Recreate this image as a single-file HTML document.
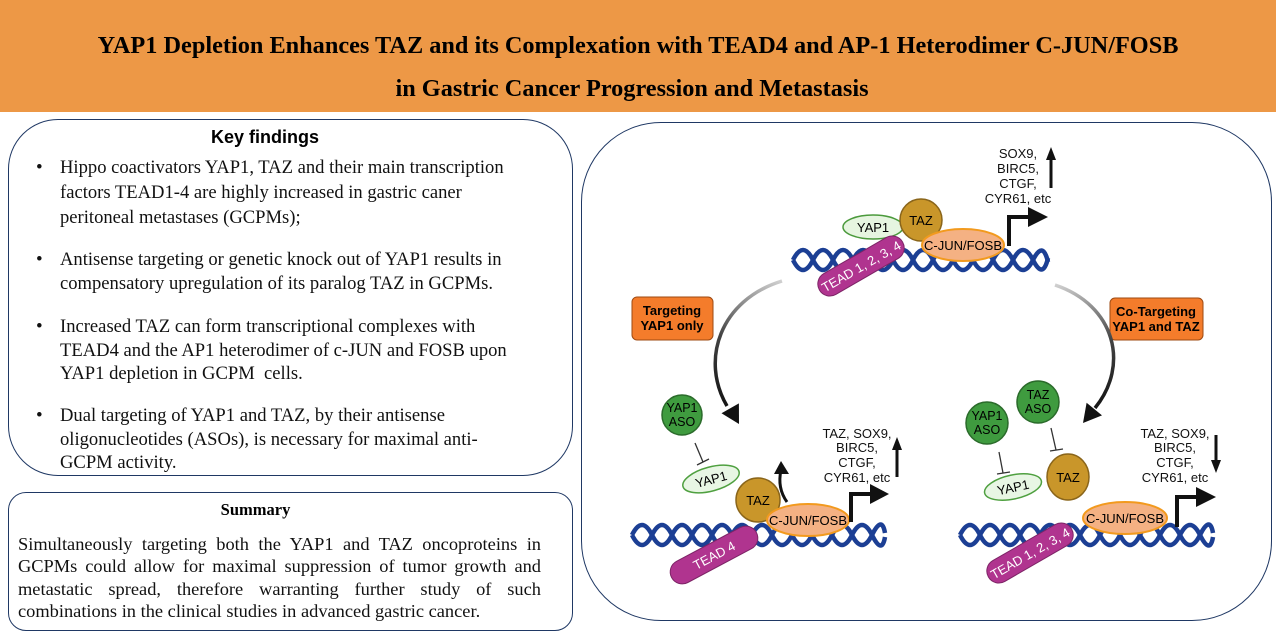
<!DOCTYPE html>
<html><head><meta charset="utf-8">
<style>
html,body{margin:0;padding:0;}
body{width:1276px;height:640px;position:relative;overflow:hidden;background:#fff;font-family:"Liberation Serif",serif;}
.hdr{position:absolute;left:0;top:0;width:1276px;height:112px;background:#ED9846;}
.t{position:absolute;left:0;width:1276px;text-align:center;font-family:"Liberation Serif",serif;font-weight:bold;font-size:24.3px;color:#000;white-space:nowrap;}
.box{position:absolute;border:1.3px solid #1F3864;background:#fff;}
.ln{position:absolute;font-family:"Liberation Serif",serif;font-size:18.6px;color:#111;white-space:nowrap;line-height:20px;}
.bul{position:absolute;left:36px;font-size:19px;line-height:20px;color:#111;}
.sj{position:absolute;left:18px;width:523px;font-family:"Liberation Serif",serif;font-size:18.4px;color:#111;line-height:20px;text-align:justify;text-align-last:justify;white-space:nowrap;}
</style></head>
<body>
<div class="hdr"></div>
<div class="t" style="top:32px;">YAP1 Depletion Enhances TAZ and its Complexation with TEAD4 and AP-1 Heterodimer C-JUN/FOSB</div>
<div class="t" style="top:75px;left:-6px;">in Gastric Cancer Progression and Metastasis</div>

<div class="box" style="left:8px;top:119px;width:563px;height:355px;border-radius:50px;"></div>
<div style="position:absolute;left:8px;top:127px;width:514px;text-align:center;font-family:'Liberation Sans',sans-serif;font-weight:bold;font-size:18px;">Key findings</div>

<div class="bul" style="top:158px;">•</div>
<div class="ln" style="left:60px;top:158px;">Hippo coactivators YAP1, TAZ and their main transcription</div>
<div class="ln" style="left:60px;top:183px;">factors TEAD1-4 are highly increased in gastric caner</div>
<div class="ln" style="left:60px;top:208px;">peritoneal metastases (GCPMs);</div>

<div class="bul" style="top:250px;">•</div>
<div class="ln" style="left:60px;top:250px;">Antisense targeting or genetic knock out of YAP1 results in</div>
<div class="ln" style="left:60px;top:274px;">compensatory upregulation of its paralog TAZ in GCPMs.</div>

<div class="bul" style="top:317px;">•</div>
<div class="ln" style="left:60px;top:317px;">Increased TAZ can form transcriptional complexes with</div>
<div class="ln" style="left:60px;top:341px;">TEAD4 and the AP1 heterodimer of c-JUN and FOSB upon</div>
<div class="ln" style="left:60px;top:364px;">YAP1 depletion in GCPM&nbsp; cells.</div>

<div class="bul" style="top:406px;">•</div>
<div class="ln" style="left:60px;top:406px;">Dual targeting of YAP1 and TAZ, by their antisense</div>
<div class="ln" style="left:60px;top:430px;">oligonucleotides (ASOs), is necessary for maximal anti-</div>
<div class="ln" style="left:60px;top:453px;">GCPM activity.</div>

<div class="box" style="left:8px;top:492px;width:563px;height:137px;border-radius:18px;"></div>
<div style="position:absolute;left:8px;top:500px;width:495px;text-align:center;font-family:'Liberation Serif',serif;font-weight:bold;font-size:16.5px;">Summary</div>
<div class="sj" style="top:534px;">Simultaneously targeting both the YAP1 and TAZ oncoproteins in</div>
<div class="sj" style="top:556px;">GCPMs could allow for maximal suppression of tumor growth and</div>
<div class="sj" style="top:579px;">metastatic spread, therefore warranting further study of such</div>
<div class="ln" style="left:18px;top:601px;font-size:18.4px;">combinations in the clinical studies in advanced gastric cancer.</div>

<div class="box" style="left:581px;top:122px;width:689px;height:497px;border-radius:80px;"></div>

<svg style="position:absolute;left:0;top:0;" width="1276" height="640" viewBox="0 0 1276 640" font-family="Liberation Sans, Arial, sans-serif">
<defs>
<linearGradient id="gl" gradientUnits="userSpaceOnUse" x1="782" y1="281" x2="735" y2="415">
<stop offset="0" stop-color="#d0d0d0"/><stop offset="0.5" stop-color="#444"/><stop offset="1" stop-color="#111"/></linearGradient>
<linearGradient id="gr" gradientUnits="userSpaceOnUse" x1="1055" y1="285" x2="1090" y2="415">
<stop offset="0" stop-color="#d0d0d0"/><stop offset="0.5" stop-color="#444"/><stop offset="1" stop-color="#111"/></linearGradient>
</defs>

<!-- TOP GROUP -->
<g fill="none" stroke="#1C3F94" stroke-width="4.5">
<path d="M793 260 Q803 240 813 260 T833 260 T853 260 T873 260 T893 260 T913 260 T933 260 T953 260 T973 260 T993 260 T1013 260 T1033 260 T1048 262"/>
<path d="M793 260 Q803 280 813 260 T833 260 T853 260 T873 260 T893 260 T913 260 T933 260 T953 260 T973 260 T993 260 T1013 260 T1033 260 T1048 258"/>
</g>
<ellipse cx="873" cy="227" rx="30" ry="12" fill="#E6F5E0" stroke="#4B9A3C" stroke-width="1.5"/>
<text x="873" y="232" font-size="13" text-anchor="middle">YAP1</text>
<circle cx="921" cy="220" r="21" fill="#C9962A" stroke="#8A651A" stroke-width="1.5"/>
<text x="921" y="225" font-size="13" text-anchor="middle">TAZ</text>
<g transform="translate(861,266) rotate(-30)">
<rect x="-48" y="-12" width="96" height="24" rx="12" fill="#B0348F" stroke="#7d2466" stroke-width="1"/>
<text x="0" y="5" font-size="13" fill="#fff" text-anchor="middle">TEAD 1, 2, 3, 4</text>
</g>
<ellipse cx="963" cy="245" rx="41" ry="16" fill="#F4B183" stroke="#F29A1E" stroke-width="2"/>
<text x="963" y="250" font-size="13" text-anchor="middle">C-JUN/FOSB</text>
<path d="M1009 246 V217 H1030" fill="none" stroke="#111" stroke-width="4"/>
<polygon points="1028,207 1048,217 1028,227" fill="#111"/>
<g font-size="13" text-anchor="middle" fill="#111">
<text x="1018" y="158">SOX9,</text>
<text x="1018" y="173">BIRC5,</text>
<text x="1018" y="188">CTGF,</text>
<text x="1018" y="203">CYR61, etc</text>
</g>
<line x1="1051" y1="188" x2="1051" y2="158" stroke="#111" stroke-width="3"/>
<polygon points="1046,160 1051,147 1056,160" fill="#111"/>

<!-- LABEL BOXES -->
<rect x="632" y="297" width="81" height="43" rx="5" fill="#F47C2B" stroke="#9E4A12" stroke-width="1"/>
<text x="672" y="315" font-size="13" font-weight="bold" text-anchor="middle">Targeting</text>
<text x="672" y="330" font-size="13" font-weight="bold" text-anchor="middle">YAP1 only</text>
<rect x="1110" y="298" width="93" height="42" rx="5" fill="#F47C2B" stroke="#9E4A12" stroke-width="1"/>
<text x="1156" y="316" font-size="13" font-weight="bold" text-anchor="middle">Co-Targeting</text>
<text x="1156" y="331" font-size="13" font-weight="bold" text-anchor="middle">YAP1 and TAZ</text>

<!-- BIG CURVED ARROWS -->
<path d="M782 281 C720 300, 700 360, 727 406" fill="none" stroke="url(#gl)" stroke-width="3.5"/>
<polygon points="739,424 721.5,413.2 738.9,403.4" fill="#111"/>
<path d="M1055 285 C1115 305, 1130 365, 1095 408" fill="none" stroke="url(#gr)" stroke-width="3.5"/>
<polygon points="1083,423 1102,415.4 1086.6,402.8" fill="#111"/>

<!-- BOTTOM LEFT -->
<g fill="none" stroke="#1C3F94" stroke-width="4.5">
<path d="M632 535 Q642 515 652 535 T672 535 T692 535 T712 535 T732 535 T752 535 T772 535 T792 535 T812 535 T832 535 T852 535 T872 535 T885 533"/>
<path d="M632 535 Q642 555 652 535 T672 535 T692 535 T712 535 T732 535 T752 535 T772 535 T792 535 T812 535 T832 535 T852 535 T872 535 T885 537"/>
</g>
<circle cx="682" cy="415" r="20" fill="#3F9B3F" stroke="#2B6B2B" stroke-width="1.5"/>
<text x="682" y="412" font-size="12.5" text-anchor="middle">YAP1</text>
<text x="682" y="426" font-size="12.5" text-anchor="middle">ASO</text>
<line x1="695" y1="443" x2="703" y2="462" stroke="#333" stroke-width="1.3"/>
<line x1="697" y1="465" x2="709" y2="459" stroke="#333" stroke-width="1.3"/>
<g transform="translate(711,479) rotate(-15)">
<ellipse cx="0" cy="0" rx="29" ry="12" fill="#E8F6E4" stroke="#4FA040" stroke-width="1.5"/>
<text x="0" y="5" font-size="13" text-anchor="middle">YAP1</text>
</g>
<path d="M787 502 Q777 488 781 470" fill="none" stroke="#111" stroke-width="3"/>
<polygon points="774,474 781,461 789,474" fill="#111"/>
<circle cx="758" cy="500" r="22" fill="#C9962A" stroke="#8A651A" stroke-width="1.5"/>
<text x="758" y="505" font-size="13" text-anchor="middle">TAZ</text>
<g transform="translate(714,555) rotate(-28)">
<rect x="-48" y="-12" width="96" height="24" rx="12" fill="#B0348F" stroke="#7d2466" stroke-width="1"/>
<text x="0" y="5" font-size="13" fill="#fff" text-anchor="middle">TEAD 4</text>
</g>
<ellipse cx="808" cy="520" rx="41" ry="16" fill="#F4B183" stroke="#F29A1E" stroke-width="2"/>
<text x="808" y="525" font-size="13" text-anchor="middle">C-JUN/FOSB</text>
<path d="M851 522 V494 H872" fill="none" stroke="#111" stroke-width="4"/>
<polygon points="870,484 889,494 870,504" fill="#111"/>
<g font-size="13" text-anchor="middle" fill="#111">
<text x="857" y="438">TAZ, SOX9,</text>
<text x="857" y="452">BIRC5,</text>
<text x="857" y="467">CTGF,</text>
<text x="857" y="482">CYR61, etc</text>
</g>
<line x1="897" y1="477" x2="897" y2="448" stroke="#111" stroke-width="3"/>
<polygon points="892,450 897,437 902,450" fill="#111"/>

<!-- BOTTOM RIGHT -->
<g fill="none" stroke="#1C3F94" stroke-width="4.5">
<path d="M960 535 Q970 515 980 535 T1000 535 T1020 535 T1040 535 T1060 535 T1080 535 T1100 535 T1120 535 T1140 535 T1160 535 T1180 535 T1200 535 T1213 533"/>
<path d="M960 535 Q970 555 980 535 T1000 535 T1020 535 T1040 535 T1060 535 T1080 535 T1100 535 T1120 535 T1140 535 T1160 535 T1180 535 T1200 535 T1213 537"/>
</g>
<circle cx="987" cy="423" r="21" fill="#3F9B3F" stroke="#2B6B2B" stroke-width="1.5"/>
<text x="987" y="420" font-size="12.5" text-anchor="middle">YAP1</text>
<text x="987" y="434" font-size="12.5" text-anchor="middle">ASO</text>
<circle cx="1038" cy="402" r="21" fill="#3F9B3F" stroke="#2B6B2B" stroke-width="1.5"/>
<text x="1038" y="399" font-size="12.5" text-anchor="middle">TAZ</text>
<text x="1038" y="413" font-size="12.5" text-anchor="middle">ASO</text>
<line x1="999" y1="452" x2="1003" y2="473" stroke="#333" stroke-width="1.3"/>
<line x1="997" y1="474" x2="1010" y2="472" stroke="#333" stroke-width="1.3"/>
<line x1="1051" y1="428" x2="1056" y2="450" stroke="#333" stroke-width="1.3"/>
<line x1="1050" y1="451" x2="1063" y2="449" stroke="#333" stroke-width="1.3"/>
<g transform="translate(1013,487) rotate(-12)">
<ellipse cx="0" cy="0" rx="29" ry="12" fill="#E8F6E4" stroke="#4FA040" stroke-width="1.5"/>
<text x="0" y="5" font-size="13" text-anchor="middle">YAP1</text>
</g>
<ellipse cx="1068" cy="477" rx="21" ry="23" fill="#C9962A" stroke="#8A651A" stroke-width="1.5"/>
<text x="1068" y="482" font-size="13" text-anchor="middle">TAZ</text>
<g transform="translate(1030,553) rotate(-30)">
<rect x="-48" y="-12" width="96" height="24" rx="12" fill="#B0348F" stroke="#7d2466" stroke-width="1"/>
<text x="0" y="5" font-size="13" fill="#fff" text-anchor="middle">TEAD 1, 2, 3, 4</text>
</g>
<ellipse cx="1125" cy="518" rx="42" ry="16" fill="#F4B183" stroke="#F29A1E" stroke-width="2"/>
<text x="1125" y="523" font-size="13" text-anchor="middle">C-JUN/FOSB</text>
<path d="M1177 527 V497 H1198" fill="none" stroke="#111" stroke-width="4"/>
<polygon points="1196,487 1216,497 1196,507" fill="#111"/>
<g font-size="13" text-anchor="middle" fill="#111">
<text x="1175" y="438">TAZ, SOX9,</text>
<text x="1175" y="452">BIRC5,</text>
<text x="1175" y="467">CTGF,</text>
<text x="1175" y="482">CYR61, etc</text>
</g>
<line x1="1216" y1="435" x2="1216" y2="462" stroke="#111" stroke-width="3"/>
<polygon points="1211,460 1216,473 1221,460" fill="#111"/>
</svg>
</body></html>
